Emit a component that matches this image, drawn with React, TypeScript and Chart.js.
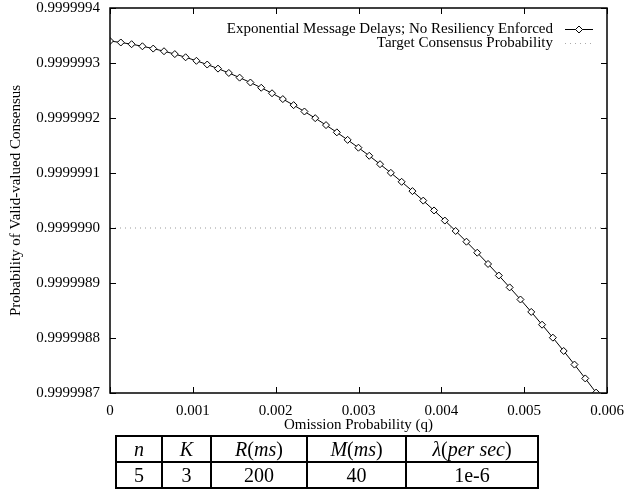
import React, { useEffect, useRef } from 'react';
import { Chart, registerables } from 'chart.js';

Chart.register(...registerables);

// ---- data ----
const qValues = [
  0, 0.0001304, 0.0002608, 0.0003912, 0.0005216, 0.000652, 0.0007824, 0.0009128,
  0.0010432, 0.0011736, 0.001304, 0.0014344, 0.0015648, 0.0016952, 0.0018256, 0.001956,
  0.0020864, 0.0022168, 0.0023472, 0.0024776, 0.002608, 0.0027384, 0.0028688, 0.0029992,
  0.0031296, 0.00326, 0.0033904, 0.0035208, 0.0036512, 0.0037816, 0.003912, 0.0040424,
  0.0041728, 0.0043032, 0.0044336, 0.004564, 0.0046944, 0.0048248, 0.0049552, 0.0050856,
  0.005216, 0.0053464, 0.0054768, 0.0056072, 0.0057376, 0.005868,
];
const probValues = [
  0.99999934, 0.9999993373, 0.9999993342, 0.9999993304, 0.9999993262, 0.9999993214,
  0.9999993162, 0.9999993104, 0.999999304, 0.9999992972, 0.9999992898, 0.9999992819,
  0.9999992734, 0.9999992645, 0.999999255, 0.999999245, 0.9999992344, 0.9999992234,
  0.9999992118, 0.9999991997, 0.9999991871, 0.9999991739, 0.9999991602, 0.999999146,
  0.9999991313, 0.999999116, 0.9999991003, 0.999999084, 0.9999990671, 0.9999990498,
  0.9999990319, 0.9999990135, 0.9999989946, 0.9999989751, 0.9999989551, 0.9999989346,
  0.9999989136, 0.999998892, 0.99999887, 0.9999988474, 0.9999988242, 0.9999988006,
  0.9999987764, 0.9999987517, 0.9999987265, 0.9999987007,
];
const targetQ = [0, 0.006];
const targetProb = [0.999999, 0.999999];

const xTicks = [0, 0.001, 0.002, 0.003, 0.004, 0.005, 0.006];
const xTickLabels = ['0', '0.001', '0.002', '0.003', '0.004', '0.005', '0.006'];
const yTicks = [0.9999987, 0.9999988, 0.9999989, 0.999999, 0.9999991, 0.9999992, 0.9999993, 0.9999994];
const yTickLabels = ['0.9999987', '0.9999988', '0.9999989', '0.9999990', '0.9999991', '0.9999992', '0.9999993', '0.9999994'];

const seriesLabel = 'Exponential Message Delays; No Resiliency Enforced';
const targetLabel = 'Target Consensus Probability';
const xTitle = 'Omission Probability (q)';
const yTitle = 'Probability of Valid-valued Consensus';

const tableValues = ['5', '3', '200', '40', '1e-6'];
const colWidths = [46, 49, 96, 99, 132];

const FONT = "'Liberation Serif', 'Times New Roman', serif";

const framePlugin = {
  id: 'frameTicks',
  afterDatasetsDraw(chart: any) {
    const { ctx, chartArea } = chart;
    const { left, right, top, bottom } = chartArea;
    const xs = chart.scales.x;
    const ys = chart.scales.y;
    ctx.save();
    ctx.strokeStyle = '#000';
    ctx.lineWidth = 1;
    const tl = 6;
    ctx.beginPath();
    xTicks.forEach((v) => {
      const px = Math.round(xs.getPixelForValue(v)) + 0.5;
      ctx.moveTo(px, bottom);
      ctx.lineTo(px, bottom - tl);
      ctx.moveTo(px, top);
      ctx.lineTo(px, top + tl);
    });
    yTicks.forEach((v) => {
      const py = Math.round(ys.getPixelForValue(v)) + 0.5;
      ctx.moveTo(left, py);
      ctx.lineTo(left + tl, py);
      ctx.moveTo(right, py);
      ctx.lineTo(right - tl, py);
    });
    ctx.stroke();
    ctx.lineWidth = 1.5;
    ctx.strokeRect(left, top, right - left, bottom - top);

    // legend
    ctx.font = `15px ${FONT}`;
    ctx.fillStyle = '#000';
    ctx.textAlign = 'right';
    ctx.textBaseline = 'middle';
    const textRight = 553;
    const row1 = 29;
    const row2 = 43;
    ctx.fillText(chart.data.datasets[0].label, textRight, row1);
    ctx.fillText(chart.data.datasets[1].label, textRight, row2);
    ctx.lineWidth = 1;
    ctx.beginPath();
    ctx.moveTo(565, row1 + 0.5);
    ctx.lineTo(593, row1 + 0.5);
    ctx.stroke();
    const mx = 579, my = row1 + 0.5, r = 3.5;
    ctx.beginPath();
    ctx.moveTo(mx, my - r);
    ctx.lineTo(mx + r, my);
    ctx.lineTo(mx, my + r);
    ctx.lineTo(mx - r, my);
    ctx.closePath();
    ctx.fillStyle = '#fff';
    ctx.fill();
    ctx.stroke();
    ctx.strokeStyle = '#aaa';
    ctx.setLineDash([1, 4]);
    ctx.beginPath();
    ctx.moveTo(565, row2 + 0.5);
    ctx.lineTo(593, row2 + 0.5);
    ctx.stroke();
    ctx.restore();
  },
};

function ResultChart() {
  const ref = useRef<HTMLCanvasElement | null>(null);
  useEffect(() => {
    if (!ref.current) return;
    const chart = new Chart(ref.current, {
      type: 'line',
      data: {
        datasets: [
          {
            label: seriesLabel,
            data: qValues.map((q, i) => ({ x: q, y: probValues[i] })),
            borderColor: '#000',
            borderWidth: 1,
            pointStyle: 'rectRot',
            pointRadius: 3.5,
            pointBackgroundColor: '#fff',
            pointBorderColor: '#000',
            pointBorderWidth: 1,
            tension: 0,
            order: 1,
          },
          {
            label: targetLabel,
            data: targetQ.map((q, i) => ({ x: q, y: targetProb[i] })),
            borderColor: '#999',
            borderWidth: 1,
            borderDash: [1, 4],
            pointRadius: 0,
            order: 2,
          },
        ],
      },
      options: {
        animation: false,
        responsive: false,
        devicePixelRatio: 1,
        layout: { padding: { top: 8, right: 18, left: 0, bottom: 0 } },
        plugins: { legend: { display: false }, tooltip: { enabled: false } },
        scales: {
          x: {
            type: 'linear',
            min: 0,
            max: 0.006,
            grid: { display: false, drawTicks: false },
            border: { display: false },
            afterFit: (s: any) => { s.height = 43; s.paddingLeft = 0; s.paddingRight = 0; },
            afterBuildTicks: (s: any) => { s.ticks = xTicks.map((v) => ({ value: v })); },
            ticks: {
              autoSkip: false,
              maxRotation: 0,
              padding: 9,
              color: '#000',
              font: { family: FONT, size: 15 },
              callback: (v: any) => xTickLabels[xTicks.findIndex((t) => Math.abs(t - v) < 1e-9)] ?? '',
            },
            title: {
              display: true,
              text: xTitle,
              color: '#000',
              font: { family: FONT, size: 15 },
              padding: { top: 0, bottom: 2 },
            },
          },
          y: {
            type: 'linear',
            min: 0.9999987,
            max: 0.9999994,
            grid: { display: false, drawTicks: false },
            border: { display: false },
            afterFit: (s: any) => { s.width = 110; s.paddingTop = 0; s.paddingBottom = 0; },
            afterBuildTicks: (s: any) => { s.ticks = yTicks.map((v) => ({ value: v })); },
            ticks: {
              autoSkip: false,
              padding: 10,
              color: '#000',
              font: { family: FONT, size: 15 },
              callback: (v: any) => yTickLabels[yTicks.findIndex((t) => Math.abs(t - v) < 1e-12)] ?? '',
            },
            title: {
              display: true,
              text: yTitle,
              color: '#000',
              font: { family: FONT, size: 15 },
              padding: { top: 7, bottom: 0 },
            },
          },
        },
      },
      plugins: [framePlugin],
    });
    return () => chart.destroy();
  }, []);
  return <canvas ref={ref} width={625} height={436} style={{ display: 'block', width: 625, height: 436 }} />;
}

const cellStyle: React.CSSProperties = {
  border: '2px solid #000',
  padding: 0,
  textAlign: 'center',
  verticalAlign: 'middle',
  height: 24,
  lineHeight: '22px',
};

export default function App() {
  const it = (s: string) => <i>{s}</i>;
  const headers: React.ReactNode[] = [
    it('n'),
    it('K'),
    <>{it('R')}({it('ms')})</>,
    <>{it('M')}({it('ms')})</>,
    <>{it('λ')}({it('per')}&nbsp;{it('sec')})</>,
  ];
  return (
    <div style={{ position: 'fixed', left: 0, top: 0, width: 625, height: 489, background: '#fff', overflow: 'hidden' }}>
      <ResultChart />
      <table
        style={{
          position: 'absolute',
          left: 115,
          top: 435,
          borderCollapse: 'collapse',
          fontFamily: FONT,
          fontSize: 20,
          tableLayout: 'fixed',
          width: colWidths.reduce((a, b) => a + b, 0),
        }}
      >
        <colgroup>
          {colWidths.map((w, i) => <col key={i} style={{ width: w }} />)}
        </colgroup>
        <tbody>
          <tr>{headers.map((h, i) => <td key={i} style={cellStyle}>{h}</td>)}</tr>
          <tr>{tableValues.map((v, i) => <td key={i} style={cellStyle}>{v}</td>)}</tr>
        </tbody>
      </table>
    </div>
  );
}
